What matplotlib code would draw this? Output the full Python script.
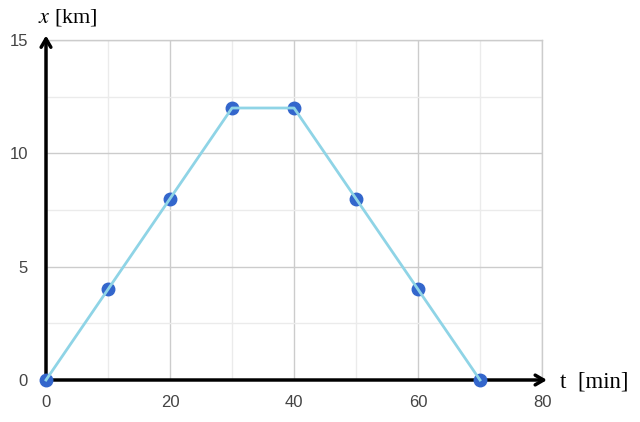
import matplotlib
matplotlib.use("Agg")
import matplotlib.pyplot as plt
from matplotlib.ticker import MultipleLocator

plt.rcParams['mathtext.fontset'] = 'stix'

# data
t_min = [0, 10, 20, 30, 40, 50, 60, 70]
x_km = [0, 4, 8, 12, 12, 8, 4, 0]

fig = plt.figure(figsize=(6.4, 4.22), dpi=100)
ax = fig.add_axes([46/640, 1-380/422, (542-46)/640, (380-40)/422])

ax.set_xlim(0, 80)
ax.set_ylim(0, 15)
ax.xaxis.set_major_locator(MultipleLocator(20))
ax.xaxis.set_minor_locator(MultipleLocator(10))
ax.yaxis.set_major_locator(MultipleLocator(5))
ax.yaxis.set_minor_locator(MultipleLocator(2.5))
ax.grid(True, which='major', color='#cccccc', lw=1)
ax.grid(True, which='minor', color='#ebebeb', lw=1)
ax.set_axisbelow(True)

for s in ['top', 'right']:
    ax.spines[s].set_color('#cccccc')
    ax.spines[s].set_linewidth(1)
for s in ['left', 'bottom']:
    ax.spines[s].set_visible(False)

ax.tick_params(which='both', length=0, labelsize=12, labelcolor='#444444',
               labelfontfamily='Liberation Sans')
ax.tick_params(axis='x', pad=11)
ax.tick_params(axis='y', pad=13)

# points first, then the line on top
ax.plot(t_min, x_km, 'o', color='#3366cc', ms=9, zorder=4, clip_on=False)
ax.plot(t_min, x_km, color='#8fd4e6', lw=2, zorder=5, clip_on=False)

# axis arrows
ax.annotate('', xy=(0, 15.2), xytext=(0, 0), xycoords='data',
            arrowprops=dict(arrowstyle='->,head_length=0.6,head_width=0.35',
                            color='black', lw=2.5, shrinkA=0, shrinkB=0),
            annotation_clip=False, zorder=3)
ax.annotate('', xy=(80.8, 0), xytext=(0, 0), xycoords='data',
            arrowprops=dict(arrowstyle='->,head_length=0.6,head_width=0.35',
                            color='black', lw=2.5, shrinkA=0, shrinkB=0),
            annotation_clip=False, zorder=3)

fig.text(38/640, 1-18/422, r'$x$ [km]', family='Liberation Serif',
         fontsize=16, va='center', ha='left')
fig.text(560/640, 1-382/422, 't  [min]', family='Liberation Serif',
         fontsize=16.5, va='center', ha='left')

fig.savefig('out.png', dpi=100)
